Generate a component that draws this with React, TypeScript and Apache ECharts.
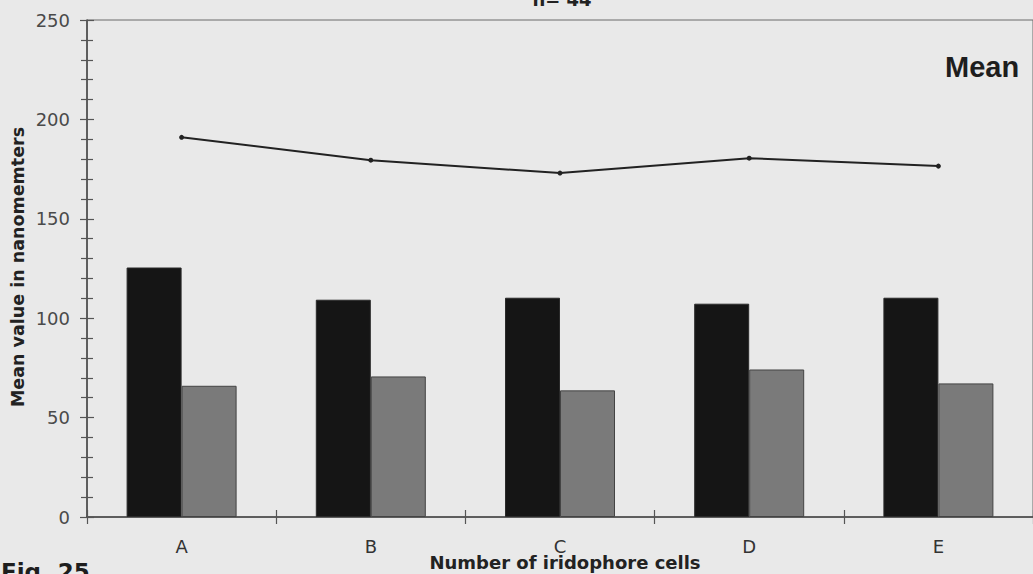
import React, { useEffect, useRef } from "react";
import * as echarts from "echarts";

const categories = ["A", "B", "C", "D", "E"];
const darkBars = [125.5, 109.3, 110.3, 107.3, 110.3];
const grayBars = [66, 70.7, 63.7, 74.2, 67.2];
const meanLine = [191, 179.5, 173, 180.5, 176.5];

const titleText = "n= 44";
const yTitle = "Mean value in nanomemters";
const xTitle = "Number of iridophore cells";
const legendText = "Mean";
const figText = "Fig. 25";

const SANS = "DejaVu Sans";

export default function App() {
  const ref = useRef<HTMLDivElement>(null);
  useEffect(() => {
    document.body.style.margin = "0";
    const chart = echarts.init(ref.current!, null, { renderer: "svg" });
    chart.setOption({
      animation: false,
      backgroundColor: "#e9e9e9",
      grid: {
        left: 87,
        right: -4,
        top: 20,
        bottom: 57,
        show: true,
        borderColor: "#6a6a6a",
        borderWidth: 1,
        backgroundColor: "transparent",
      },
      xAxis: [
        {
          type: "category",
          data: categories,
          position: "bottom",
          axisLine: { show: true, lineStyle: { color: "#444", width: 1.5 } },
          axisTick: { show: true, length: 7, lineStyle: { color: "#555", width: 1.2 } },
          axisLabel: { color: "#333", fontFamily: SANS, fontSize: 18, margin: 20 },
        },
        {
          type: "category",
          data: categories,
          position: "bottom",
          axisLine: { show: false },
          axisTick: { show: true, inside: true, length: 7, lineStyle: { color: "#555", width: 1.2 } },
          axisLabel: { show: false },
        },
      ],
      yAxis: [
        {
          type: "value",
          min: 0,
          max: 250,
          interval: 50,
          position: "left",
          splitLine: { show: false },
          axisLine: { show: true, lineStyle: { color: "#444", width: 1.5 } },
          axisTick: { show: true, length: 7, lineStyle: { color: "#555", width: 1.2 } },
          minorTick: { show: true, splitNumber: 5, length: 6, lineStyle: { color: "#555", width: 1.2 } },
          axisLabel: { color: "#4a4a4a", fontFamily: SANS, fontSize: 18, margin: 17 },
        },
        {
          type: "value",
          min: 0,
          max: 250,
          interval: 50,
          position: "left",
          splitLine: { show: false },
          axisLine: { show: false },
          axisTick: { show: true, inside: true, length: 7, lineStyle: { color: "#555", width: 1.2 } },
          minorTick: { show: true, splitNumber: 5, length: 6, lineStyle: { color: "#555", width: 1.2 } },
          axisLabel: { show: false },
        },
      ],
      series: [
        {
          type: "bar",
          data: darkBars,
          barWidth: 55,
          barGap: "0%",
          itemStyle: { color: "#151515", borderColor: "#2a2a2a", borderWidth: 1 },
        },
        {
          type: "bar",
          data: grayBars,
          barWidth: 55,
          barGap: "0%",
          itemStyle: { color: "#7a7a7a", borderColor: "#444", borderWidth: 1 },
        },
        {
          type: "line",
          data: meanLine,
          symbol: "circle",
          symbolSize: 5,
          lineStyle: { color: "#222", width: 2 },
          itemStyle: { color: "#222" },
        },
      ],
      graphic: [
        {
          type: "text",
          x: 562,
          y: -1,
          style: {
            text: titleText,
            fontFamily: SANS,
            fontWeight: "bold",
            fontSize: 18,
            fill: "#222",
            align: "center",
            verticalAlign: "middle",
          },
        },
        {
          type: "text",
          x: 18,
          y: 267,
          rotation: Math.PI / 2,
          style: {
            text: yTitle,
            fontFamily: SANS,
            fontWeight: "bold",
            fontSize: 17.5,
            fill: "#222",
            align: "center",
            verticalAlign: "middle",
          },
        },
        {
          type: "text",
          x: 565,
          y: 562,
          style: {
            text: xTitle,
            fontFamily: SANS,
            fontWeight: "bold",
            fontSize: 18,
            fill: "#222",
            align: "center",
            verticalAlign: "middle",
          },
        },
        {
          type: "text",
          x: 945,
          y: 67,
          style: {
            text: legendText,
            fontFamily: "Liberation Sans",
            fontWeight: "bold",
            fontSize: 29,
            fill: "#1e1e1e",
            align: "left",
            verticalAlign: "middle",
          },
        },
        {
          type: "text",
          x: 1,
          y: 572,
          style: {
            text: figText,
            fontFamily: SANS,
            fontWeight: "bold",
            fontSize: 23,
            fill: "#1e1e1e",
            align: "left",
            verticalAlign: "middle",
          },
        },
      ],
    });
    return () => chart.dispose();
  }, []);
  return (
    <div
      ref={ref}
      style={{ position: "absolute", left: 0, top: 0, width: 1033, height: 574 }}
    />
  );
}
